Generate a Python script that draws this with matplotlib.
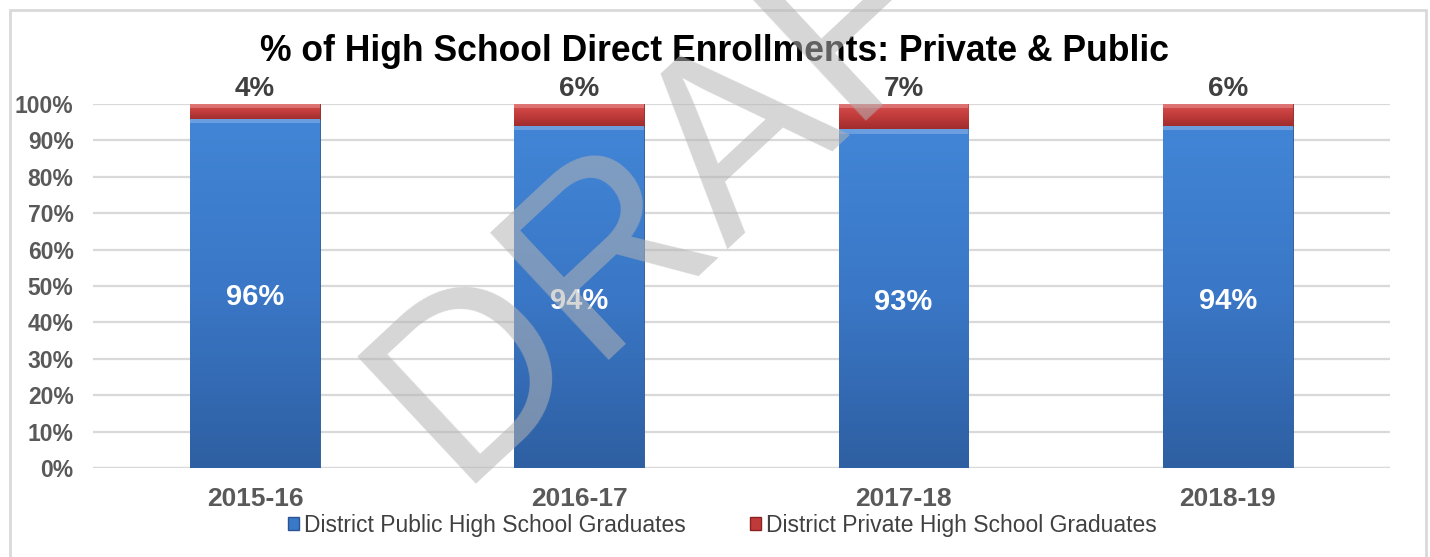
import numpy as np
import matplotlib
matplotlib.use("Agg")
import matplotlib.pyplot as plt
from matplotlib.patches import Rectangle
from matplotlib.colors import LinearSegmentedColormap

years = ["2015-16", "2016-17", "2017-18", "2018-19"]
public_pct = [96, 94, 93, 94]
private_pct = [4, 6, 7, 6]

plt.rcParams["font.family"] = ["Liberation Sans", "DejaVu Sans"]

fig = plt.figure(figsize=(14.30, 5.57), dpi=100)
ax = fig.add_axes([0.065, 0.1598, 0.907, 0.6535])

x = np.arange(len(years))
pub = np.array(public_pct) / 100
priv = np.array(private_pct) / 100

blue_cmap = LinearSegmentedColormap.from_list("b", ["#2e5fa2", "#3a77c6", "#4285d6"])
red_cmap = LinearSegmentedColormap.from_list("r", ["#a02c2c", "#c23c3c", "#d84f4f"])

bars_pub = ax.bar(x, pub, width=0.4, color="#3a78c8", edgecolor="#2a5590",
                  linewidth=0.6, zorder=2)
bars_priv = ax.bar(x, priv, width=0.4, bottom=pub, color="#c03a3a",
                   edgecolor="#8a2222", linewidth=0.6, zorder=2)

# vertical shading inside each segment, with a light strip along the top
grad = np.linspace(0, 1, 256).reshape(-1, 1)
for bars, cmap in ((bars_pub, blue_cmap), (bars_priv, red_cmap)):
    for b in bars:
        x0, y0 = b.get_x(), b.get_y()
        w, h = b.get_width(), b.get_height()
        im = ax.imshow(grad, cmap=cmap, origin="lower", aspect="auto",
                       extent=(x0, x0 + w, y0, y0 + h), zorder=2.5)
        im.set_clip_path(b)
        ax.add_patch(Rectangle((x0, y0 + h - 0.012), w, 0.012, facecolor="white",
                               alpha=0.22, linewidth=0, zorder=2.6))

for xi, p, q in zip(x, public_pct, private_pct):
    ax.text(xi, p / 100 / 2 - 0.01, f"{p}%", ha="center", va="center", color="white",
            fontsize=21, fontweight="bold", zorder=4)
    ax.text(xi, 1.0 + 0.005, f"{q}%", ha="center", va="bottom", color="#404040",
            fontsize=20, fontweight="bold", zorder=4)

ax.set_xlim(-0.5, 3.5)
ax.set_ylim(0, 1.0)
ax.set_yticks(np.arange(0, 1.01, 0.1))
ax.set_yticklabels([f"{int(round(v * 100))}%" for v in np.arange(0, 1.01, 0.1)])
ax.set_xticks(x)
ax.set_xticklabels(years)
ax.yaxis.grid(True, color="#d9d9d9", linewidth=1.6, zorder=0)
ax.set_axisbelow(True)
for s in ax.spines.values():
    s.set_visible(False)
ax.axhline(0, color="#d9d9d9", linewidth=1.6, zorder=1)
ax.tick_params(axis="both", length=0)
ax.tick_params(axis="y", labelsize=16.5, labelcolor="#595959", pad=14)
ax.tick_params(axis="x", labelsize=19, labelcolor="#595959", pad=14)
for lbl in ax.get_xticklabels() + ax.get_yticklabels():
    lbl.set_fontweight("bold")

fig.text(0.5, 0.907, "% of High School Direct Enrollments: Private & Public",
         ha="center", va="center", fontsize=25.6, fontweight="bold", color="black")

# legend
handles = [Rectangle((0, 0), 1, 1, facecolor="#3a78c8", edgecolor="#2a5590"),
           Rectangle((0, 0), 1, 1, facecolor="#c03a3a", edgecolor="#8a2222")]
leg = fig.legend(handles, ["District Public High School Graduates",
                           "District Private High School Graduates"],
                 loc="center", bbox_to_anchor=(0.505, 0.057), ncol=2, frameon=False,
                 handlelength=0.5, handleheight=0.5, handletextpad=0.2,
                 columnspacing=2.8,
                 prop={"family": ["Liberation Sans Narrow", "Liberation Sans"], "size": 16.5})
for t in leg.get_texts():
    t.set_color("#404040")

# chart frame
fig.patches.append(Rectangle((10 / 1430, -0.02), 1416 / 1430, 1 - 10 / 557 + 0.02,
                             transform=fig.transFigure, fill=False,
                             edgecolor="#d9d9d9", linewidth=2, zorder=0))

# watermark
fig.text(455 / 1430, 1 - 484 / 557, "DRAFT", rotation=43, rotation_mode="anchor",
         ha="left", va="baseline", fontsize=182, color="#b4b4b4", alpha=0.55,
         zorder=10)

fig.savefig("out.png", dpi=100)
